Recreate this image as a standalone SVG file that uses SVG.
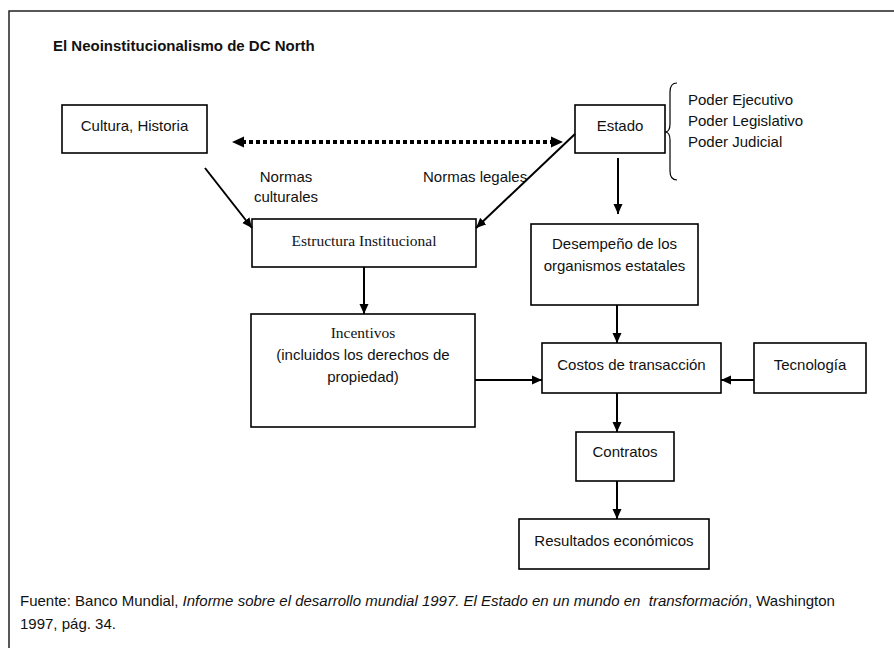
<svg xmlns="http://www.w3.org/2000/svg" width="894" height="648" viewBox="0 0 894 648">
<style>
.box{fill:#fff;stroke:#000;stroke-width:1.6}
.t{font-family:"Liberation Sans",Arial,sans-serif;font-size:15px;fill:#111}
.s{font-family:"Liberation Serif","Times New Roman",serif;font-size:15.5px;fill:#111}
.c{text-anchor:middle}
.ln{stroke:#000;stroke-width:2;fill:none}
</style>
<defs>
<marker id="ah" viewBox="0 0 10 10" refX="10" refY="5" markerWidth="10" markerHeight="10" markerUnits="userSpaceOnUse" orient="auto-start-reverse">
<path d="M0,0.5 L10,5 L0,9.5 Z" fill="#000"/>
</marker>
<marker id="ahd" viewBox="0 0 12 12" refX="12" refY="6" markerWidth="12" markerHeight="12" markerUnits="userSpaceOnUse" orient="auto-start-reverse">
<path d="M0,0.5 L12,6 L0,11.5 Z" fill="#000"/>
</marker>
</defs>
<rect width="894" height="648" fill="#fff"/>
<rect x="9" y="11" width="900" height="660" fill="none" stroke="#222" stroke-width="1.5"/>
<text class="t" x="53" y="51" style="font-weight:bold">El Neoinstitucionalismo de DC North</text>

<g id="cultura"><rect class="box" x="62" y="105" width="145" height="48"/><text class="t c" x="134.5" y="131">Cultura, Historia</text></g>
<g id="estado"><rect class="box" x="575" y="105" width="90" height="48"/><text class="t c" x="620" y="131">Estado</text></g>
<g id="poderes">
<path d="M677,83 Q670,83 670,92 L670,124 Q670,132 665,132 Q670,132 670,140 L670,171 Q670,180 677,180" fill="none" stroke="#000" stroke-width="1.2"/>
<text class="t" x="688" y="105">Poder Ejecutivo</text>
<text class="t" x="688" y="126">Poder Legislativo</text>
<text class="t" x="688" y="147">Poder Judicial</text>
</g>
<g id="estructura"><rect class="box" x="252" y="219" width="224" height="48"/><text class="s c" x="364" y="246">Estructura Institucional</text></g>
<g id="desempeno"><rect class="box" x="531" y="224" width="167" height="81"/><text class="t c" x="614.5" y="249">Desempeño de los</text><text class="t c" x="614.5" y="271">organismos estatales</text></g>
<g id="incentivos"><rect class="box" x="251" y="314" width="224" height="113"/><text class="s c" x="363" y="338">Incentivos</text><text class="t c" x="363" y="360">(incluidos los derechos de</text><text class="t c" x="363" y="382">propiedad)</text></g>
<g id="costos"><rect class="box" x="542" y="343" width="179" height="50"/><text class="t c" x="631.5" y="370">Costos de transacción</text></g>
<g id="tecnologia"><rect class="box" x="754" y="343" width="112" height="50"/><text class="t c" x="810" y="370">Tecnología</text></g>
<g id="contratos"><rect class="box" x="576" y="432" width="98" height="49"/><text class="t c" x="625" y="457">Contratos</text></g>
<g id="resultados"><rect class="box" x="519" y="519" width="190" height="50"/><text class="t c" x="614" y="546">Resultados económicos</text></g>

<g id="labels">
<text class="t c" x="286" y="182">Normas</text>
<text class="t c" x="286" y="202">culturales</text>
<text class="t" x="423" y="182">Normas legales</text>
</g>

<g id="connectors">
<line x1="242" y1="142" x2="551" y2="142" stroke="#000" stroke-width="4" stroke-dasharray="4,3"/>
<line x1="232" y1="142" x2="563" y2="142" stroke="none" marker-start="url(#ahd)" marker-end="url(#ahd)"/>
<line class="ln" x1="205" y1="168" x2="252" y2="228" marker-end="url(#ah)"/>
<line class="ln" x1="575" y1="134" x2="476" y2="228" marker-end="url(#ah)"/>
<line class="ln" x1="618" y1="158" x2="618" y2="214" marker-end="url(#ah)"/>
<line class="ln" x1="364" y1="267" x2="364" y2="314" marker-end="url(#ah)"/>
<line class="ln" x1="617" y1="305" x2="617" y2="343" marker-end="url(#ah)"/>
<line class="ln" x1="475" y1="380" x2="542" y2="380" marker-end="url(#ah)"/>
<line class="ln" x1="754" y1="380" x2="721" y2="380" marker-end="url(#ah)"/>
<line class="ln" x1="617" y1="393" x2="617" y2="432" marker-end="url(#ah)"/>
<line class="ln" x1="617" y1="481" x2="617" y2="519" marker-end="url(#ah)"/>
</g>

<g id="footer">
<text class="t" x="20" y="606">Fuente: Banco Mundial, <tspan font-style="italic">Informe sobre el desarrollo mundial 1997. El Estado en un mundo en&#160; transformación</tspan>, Washington</text>
<text class="t" x="20" y="629">1997, pág. 34.</text>
</g>
</svg>
